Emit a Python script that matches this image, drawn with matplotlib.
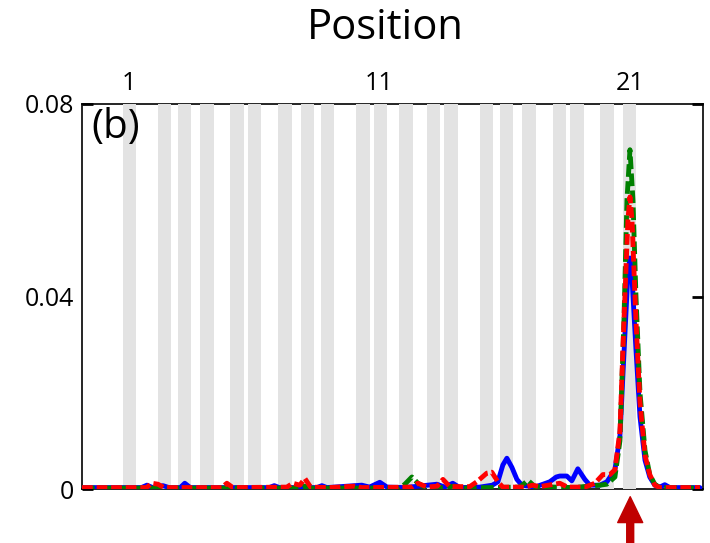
import matplotlib
matplotlib.use("Agg")
import matplotlib.pyplot as plt

plt.rcParams['font.family'] = ['Open Sans', 'DejaVu Sans']

# ===== DATA =====
tick_pos = [1, 11, 21]
tick_labels = ["1", "11", "21"]
y_ticks = [0, 0.04, 0.08]
y_labels = ["0", "0.04", "0.08"]

# grey bands (position centres)
band_pos = [1.02, 2.43, 3.22, 4.12, 5.31, 6.01, 7.23, 8.13, 8.92, 10.33,
            11.03, 12.06, 13.16, 13.86, 15.27, 16.06, 16.96, 18.18, 18.88,
            20.08, 20.98]
band_width = 0.54

blue_x = [-0.87, 1.50, 1.72, 1.95, 2.36, 2.60, 3.05, 3.23, 3.45, 5.00,
          6.60, 6.80, 7.00, 8.50, 8.70, 8.90, 10.29, 10.60, 11.01, 11.30,
          12.00, 13.29, 13.60, 13.92, 14.20, 15.00, 15.50, 15.72, 15.92, 16.08,
          16.28, 16.48, 16.68, 17.20, 17.79, 18.05, 18.19, 18.47, 18.67, 18.91,
          19.19, 19.39, 19.79, 20.07, 20.39, 20.59, 20.75, 20.91, 20.99, 21.07,
          21.23, 21.39, 21.59, 21.78, 21.98, 22.18, 22.38, 22.58, 23.78]
blue_y = [0.0003, 0.0003, 0.0008, 0.0003, 0.0007, 0.0003, 0.0003, 0.0012, 0.0003, 0.0003,
          0.0003, 0.0007, 0.0003, 0.0003, 0.0007, 0.0003, 0.0008, 0.0004, 0.0014, 0.0004,
          0.0003, 0.0010, 0.0004, 0.0012, 0.0003, 0.0004, 0.0008, 0.0015, 0.0050, 0.0064,
          0.0045, 0.0020, 0.0008, 0.0004, 0.0015, 0.0025, 0.0027, 0.0027, 0.0017, 0.0042,
          0.0020, 0.0008, 0.0008, 0.0015, 0.0040, 0.0110, 0.0280, 0.0450, 0.0480, 0.0440,
          0.0290, 0.0150, 0.0060, 0.0025, 0.0008, 0.0004, 0.0009, 0.0003, 0.0003]

green_x = [-0.87, 2.00, 2.30, 2.50, 7.80, 8.00, 8.20, 11.80, 12.01, 12.29,
           12.53, 12.81, 13.50, 14.00, 14.30, 16.60, 16.92, 17.20, 18.80, 19.30,
           19.79, 20.07, 20.39, 20.59, 20.75, 20.87, 20.99, 21.11, 21.23, 21.39,
           21.59, 21.78, 21.98, 22.18, 23.78]
green_y = [0.0002, 0.0002, 0.0005, 0.0002, 0.0002, 0.0006, 0.0002, 0.0002, 0.0010, 0.0025,
           0.0012, 0.0004, 0.0003, 0.0006, 0.0002, 0.0004, 0.0018, 0.0005, 0.0003, 0.0006,
           0.0008, 0.0010, 0.0025, 0.0100, 0.0350, 0.0600, 0.0705, 0.0600, 0.0400, 0.0200,
           0.0080, 0.0030, 0.0010, 0.0003, 0.0002]

red_x = [-0.87, 1.70, 1.92, 2.16, 2.40, 4.70, 4.91, 5.15, 7.30, 7.54,
         7.82, 8.02, 8.25, 9.00, 10.00, 10.30, 12.30, 12.53, 12.90, 13.30,
         13.53, 13.80, 14.60, 14.88, 15.28, 15.48, 15.72, 15.92, 16.80, 17.11,
         17.39, 18.19, 18.50, 19.20, 19.59, 19.91, 20.19, 20.39, 20.59, 20.75,
         20.91, 20.99, 21.07, 21.23, 21.39, 21.59, 21.78, 21.98, 22.18, 23.78]
red_y = [0.0003, 0.0003, 0.0012, 0.0010, 0.0003, 0.0003, 0.0012, 0.0003, 0.0004, 0.0012,
         0.0008, 0.0022, 0.0004, 0.0003, 0.0006, 0.0003, 0.0004, 0.0012, 0.0004, 0.0006,
         0.0020, 0.0005, 0.0005, 0.0015, 0.0033, 0.0035, 0.0015, 0.0004, 0.0004, 0.0008,
         0.0005, 0.0012, 0.0004, 0.0004, 0.0012, 0.0030, 0.0030, 0.0040, 0.0120, 0.0350,
         0.0560, 0.0607, 0.0560, 0.0350, 0.0180, 0.0070, 0.0030, 0.0008, 0.0003, 0.0003]

arrow_pos = 21

# ===== PLOT =====
fig = plt.figure(figsize=(7.1, 5.43), dpi=100)
ax = fig.add_axes([0.1155, 0.0994, 0.8745, 0.7091])

for c in band_pos:
    ax.axvspan(c - band_width / 2, c + band_width / 2, color="#e3e3e3", lw=0, zorder=3)

ax.plot(blue_x, blue_y, color="#0000ff", lw=3.5, zorder=4, solid_capstyle="round")
ax.plot(green_x, green_y, color="#008000", lw=3.5, dashes=(2.6, 0.9), zorder=5)
ax.plot(red_x, red_y, color="#ff0000", lw=3.5, dashes=(2.2, 0.8), zorder=6)

ax.set_xlim(-0.87, 23.9)
ax.set_ylim(0, 0.08)

# labels on top, single small tick at the bottom under the arrow
ax.set_xticks(tick_pos)
ax.set_xticklabels(tick_labels)
ax.set_xticks([arrow_pos], minor=True)
ax.tick_params(axis="x", which="major", top=False, bottom=False, labeltop=True,
               labelbottom=False, length=0, labelsize=18, pad=6)
ax.tick_params(axis="x", which="minor", top=False, bottom=True, direction="out",
               length=3, width=1)
ax.set_yticks(y_ticks)
ax.set_yticklabels(y_labels)
ax.tick_params(axis="y", left=True, right=True, direction="in", length=8, width=2,
               labelsize=18, pad=6)
ax.yaxis.get_major_ticks()[1].tick1line.set_visible(False)

for s in ax.spines.values():
    s.set_linewidth(1.2)

ax.text(0.015, 0.99, "(b)", transform=ax.transAxes, fontsize=29,
        ha="left", va="top", zorder=7)
fig.text(0.542, 0.948, "Position", fontsize=30, ha="center", va="center")

ax.annotate("", xy=(arrow_pos, -0.02), xytext=(arrow_pos, -0.142),
            xycoords=("data", "axes fraction"), textcoords=("data", "axes fraction"),
            arrowprops=dict(arrowstyle="simple,head_length=0.93,head_width=0.9,tail_width=0.25",
                            color="#c00000", mutation_scale=20, shrinkA=0, shrinkB=0),
            annotation_clip=False)

fig.savefig("out.png", dpi=100)
